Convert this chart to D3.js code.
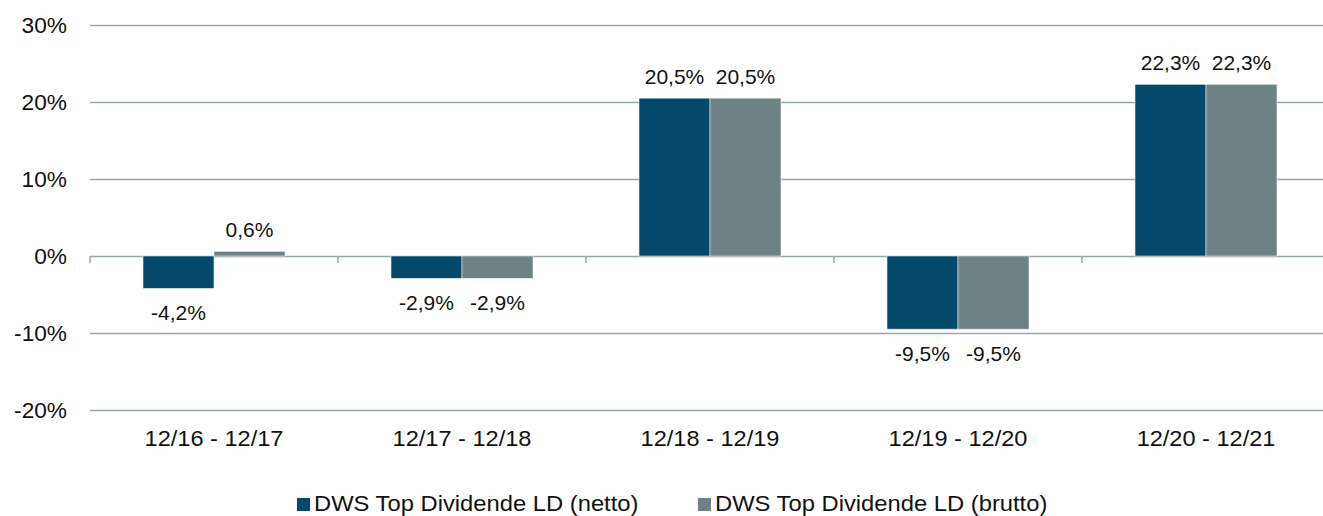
<!DOCTYPE html>
<html>
<head>
<meta charset="utf-8">
<script src="https://cdn.jsdelivr.net/npm/d3@7"></script>
<style>
  body { margin: 0; background: #fff; }
  text { font-family: "Liberation Sans", Arial, sans-serif; fill: #111; }
</style>
</head>
<body>
<svg width="1323" height="516"></svg>
<script>
var categories = ["12/16 - 12/17", "12/17 - 12/18", "12/18 - 12/19", "12/19 - 12/20", "12/20 - 12/21"];
var seriesNames = ["DWS Top Dividende LD (netto)", "DWS Top Dividende LD (brutto)"];
var netto = [-4.2, -2.9, 20.5, -9.5, 22.3];
var brutto = [0.6, -2.9, 20.5, -9.5, 22.3];
var yTicks = [30, 20, 10, 0, -10, -20];
var colors = ["#02496b", "#6e8286"];

var svg = d3.select("svg");
var x = d3.scaleBand().domain(categories).range([90, 1330]);
var x1 = d3.scaleBand().domain([0, 1]).range([53, 195]);
var y = d3.scaleLinear().domain([-20, 30]).range([410, 25]);

// stretch text a little wider, the source font is wider than Liberation
function stretch(sel, k) {
  sel.each(function () {
    var len = this.getComputedTextLength();
    d3.select(this).attr("textLength", len * k).attr("lengthAdjust", "spacingAndGlyphs");
  });
}

// grid
svg.selectAll("line.grid")
  .data(yTicks)
  .enter()
  .append("line")
    .attr("x1", 90).attr("x2", 1330)
    .attr("y1", function (d) { return Math.round(y(d)) + 0.5; })
    .attr("y2", function (d) { return Math.round(y(d)) + 0.5; })
    .attr("stroke", "#9aa8ab")
    .attr("stroke-width", 1.5);

// y labels
svg.selectAll("text.ylab")
  .data(yTicks)
  .enter()
  .append("text")
    .attr("x", 67)
    .attr("y", function (d) { return y(d) + 8; })
    .attr("text-anchor", "end")
    .attr("font-size", 22)
    .text(function (d) { return d + "%"; })
    .call(stretch, 1.03);

// category tick marks on zero line
svg.selectAll("line.tick")
  .data(d3.range(categories.length + 1))
  .enter()
  .append("line")
    .attr("x1", function (i) { return 90 + i * x.bandwidth(); })
    .attr("x2", function (i) { return 90 + i * x.bandwidth(); })
    .attr("y1", y(0)).attr("y2", y(0) + 7)
    .attr("stroke", "#9aa8ab")
    .attr("stroke-width", 1.5);

var rows = [];
categories.forEach(function (c, i) {
  rows.push({ cat: c, s: 0, v: netto[i] });
  rows.push({ cat: c, s: 1, v: brutto[i] });
});

svg.selectAll("rect.bar")
  .data(rows)
  .enter()
  .append("rect")
    .attr("x", function (d) { return x(d.cat) + x1(d.s); })
    .attr("width", x1.bandwidth())
    .attr("y", function (d) { return y(Math.max(0, d.v)); })
    .attr("height", function (d) { return Math.abs(y(d.v) - y(0)); })
    .attr("fill", function (d) { return colors[d.s]; })
    .attr("stroke", "#e8eef0")
    .attr("stroke-width", 0.6);

svg.selectAll("text.val")
  .data(rows)
  .enter()
  .append("text")
    .attr("x", function (d) { return x(d.cat) + x1(d.s) + x1.bandwidth() / 2; })
    .attr("y", function (d) { return d.v >= 0 ? y(d.v) - 14 : y(d.v) + 32; })
    .attr("text-anchor", "middle")
    .attr("font-size", 21)
    .text(function (d) { return String(d.v).replace(".", ",") + "%"; });

svg.selectAll("text.cat")
  .data(categories)
  .enter()
  .append("text")
    .attr("x", function (d) { return x(d) + x.bandwidth() / 2; })
    .attr("y", 446)
    .attr("text-anchor", "middle")
    .attr("font-size", 22)
    .text(function (d) { return d; })
    .call(stretch, 1.07);

// legend
var legX = [297, 698];
var leg = svg.selectAll("g.leg")
  .data(seriesNames)
  .enter()
  .append("g")
    .attr("transform", function (d, i) { return "translate(" + legX[i] + ",498)"; });
leg.append("rect")
  .attr("width", 13).attr("height", 13)
  .attr("fill", function (d, i) { return colors[i]; });
leg.append("text")
  .attr("x", 17).attr("y", 13)
  .attr("font-size", 22)
  .text(function (d) { return d; })
  .call(stretch, 1.08);
</script>
</body>
</html>
